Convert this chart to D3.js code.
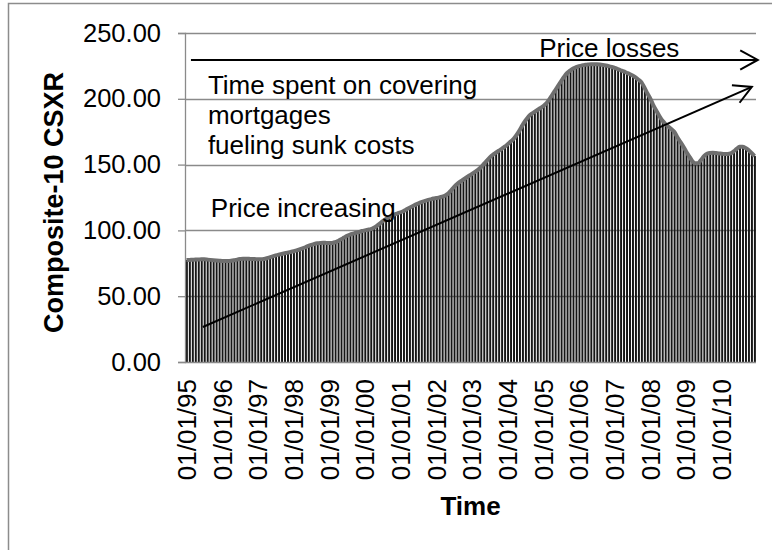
<!DOCTYPE html>
<html>
<head>
<meta charset="utf-8">
<script src="https://cdn.jsdelivr.net/npm/d3@7"></script>
<style>
  body { margin: 0; background: #fff; }
  svg { display: block; font-family: "Liberation Sans", Arial, sans-serif; }
</style>
</head>
<body>
<svg id="chart" width="772" height="550"></svg>
<script>
// year tick labels (one per January)
const yearLabels = ["01/01/95", "01/01/96", "01/01/97", "01/01/98", "01/01/99", "01/01/00", "01/01/01", "01/01/02",
    "01/01/03", "01/01/04", "01/01/05", "01/01/06", "01/01/07", "01/01/08", "01/01/09", "01/01/10"];

// Composite-10 CSXR, monthly
const csxr1995 = [77.5, 77.6, 77.7, 77.8, 77.9, 78.0, 78.0, 77.8, 77.6, 77.4, 77.2, 77.0];
const csxr1996 = [76.8, 76.7, 76.7, 76.9, 77.3, 77.8, 78.2, 78.5, 78.5, 78.4, 78.3, 78.2];
const csxr1997 = [78.1, 78.1, 78.3, 78.8, 79.5, 80.3, 81.0, 81.6, 82.1, 82.6, 83.1, 83.6];
const csxr1998 = [84.2, 84.8, 85.5, 86.3, 87.2, 88.2, 89.0, 89.7, 90.2, 90.5, 90.6, 90.5];
const csxr1999 = [90.4, 90.5, 91.0, 92.0, 93.2, 94.6, 95.9, 96.8, 97.5, 98.2, 98.8, 99.5];
const csxr2000 = [100.0, 100.5, 101.0, 102.0, 103.5, 105.2, 107.0, 108.6, 110.0, 111.2, 112.2, 113.0];
const csxr2001 = [113.8, 114.8, 116.0, 117.2, 118.4, 119.6, 120.6, 121.5, 122.3, 123.0, 123.6, 124.2];
const csxr2002 = [124.6, 125.0, 125.6, 126.5, 128.0, 130.5, 133.0, 135.2, 137.0, 138.5, 140.0, 141.5];
const csxr2003 = [143.0, 144.5, 146.0, 148.0, 150.5, 153.0, 155.5, 157.5, 159.0, 160.5, 162.0, 163.6];
const csxr2004 = [165.5, 167.5, 169.5, 172.5, 176.0, 180.0, 183.5, 186.5, 188.5, 190.0, 191.5, 193.0];
const csxr2005 = [194.5, 196.5, 199.5, 203.0, 206.5, 210.0, 213.5, 216.8, 219.6, 221.5, 223.0, 224.0];
const csxr2006 = [224.8, 225.4, 225.8, 226.1, 226.3, 226.3, 226.2, 226.0, 225.7, 225.3, 224.8, 224.2];
const csxr2007 = [223.5, 222.6, 221.7, 220.8, 219.8, 218.8, 217.7, 216.3, 214.5, 212.5, 208.5, 204.0];
const csxr2008 = [200.0, 195.0, 191.0, 187.0, 183.5, 181.0, 179.0, 177.0, 175.0, 171.0, 167.5, 164.0];
const csxr2009 = [160.0, 156.5, 153.0, 151.0, 151.0, 153.5, 156.5, 158.2, 158.8, 159.0, 158.8, 158.5];
const csxr2010 = [158.3, 158.0, 158.0, 158.5, 160.0, 162.0, 163.5, 163.6, 162.6, 161.0, 158.8, 156.5];

const yTicks = [0, 50, 100, 150, 200, 250];

// annotations: [month index, value] anchors
const annotations = [
    { text: "Price losses", m: 119.1, v: 232 },
    { text: "Time spent on covering", m: 7.7, v: 204 },
    { text: "mortgages", m: 7.7, v: 181 },
    { text: "fueling sunk costs", m: 7.7, v: 158 },
    { text: "Price increasing", m: 8.7, v: 110.5 }
];
const arrows = [
    { from: [2.0, 229.5], to: [192.6, 229.5] },
    { from: [6.0, 26.6], to: [190.6, 209] }
];

(function () {
    const series = [].concat(csxr1995, csxr1996, csxr1997, csxr1998, csxr1999, csxr2000, csxr2001, csxr2002,
        csxr2003, csxr2004, csxr2005, csxr2006, csxr2007, csxr2008, csxr2009, csxr2010);

    const left = 185, right = 756, top = 33, bottom = 362;

    const x = d3.scaleBand().domain(d3.range(series.length)).range([left, right]).padding(0);
    const xm = d3.scaleLinear().domain([0, series.length]).range([left, right]); // for annotations
    const y = d3.scaleLinear().domain([0, 250]).range([bottom, top]);

    const svg = d3.select("#chart");

    // outer chart border (only top/left show in the crop)
    svg.append("rect")
        .attr("x", 8.5).attr("y", 3.5)
        .attr("width", 900).attr("height", 700)
        .attr("fill", "none")
        .attr("stroke", "#8c8c8c")
        .attr("stroke-width", 1.5);

    // gridlines
    svg.append("g")
        .selectAll("line")
        .data(yTicks.slice(1))
        .join("line")
        .attr("x1", left).attr("x2", right)
        .attr("y1", d => Math.round(y(d)) + 0.5)
        .attr("y2", d => Math.round(y(d)) + 0.5)
        .attr("stroke", "#8a8a8a")
        .attr("stroke-width", 1.3);

    // monthly bars, hatched look
    const bw = x.bandwidth();
    svg.append("g")
        .selectAll("rect")
        .data(series)
        .join("rect")
        .attr("x", (d, i) => x(i) + bw * 0.3)
        .attr("width", bw * 0.66)
        .attr("y", d => y(d))
        .attr("height", d => bottom - y(d))
        .attr("fill", "#161616");

    // top outline
    const line = d3.line()
        .x((d, i) => x(i) + bw / 2)
        .y(d => y(d))
        .curve(d3.curveMonotoneX);
    svg.append("path")
        .datum(series)
        .attr("d", line)
        .attr("fill", "none")
        .attr("stroke", "#6e6e6e")
        .attr("stroke-width", 4)
        .attr("stroke-linejoin", "round");

    // y axis
    const yAxis = svg.append("g")
        .attr("transform", `translate(${left},0)`)
        .call(d3.axisLeft(y).tickValues(yTicks).tickSize(7).tickPadding(17).tickFormat(d3.format(".2f")));
    yAxis.select(".domain").attr("stroke", "#8a8a8a").attr("stroke-width", 1.3);
    yAxis.selectAll(".tick line").attr("stroke", "#8a8a8a").attr("stroke-width", 1.3);
    yAxis.selectAll("text")
        .attr("font-size", 25.5)
        .attr("font-family", "Liberation Sans, Arial, sans-serif")
        .attr("fill", "#000");

    // x axis line
    svg.append("line")
        .attr("x1", left).attr("x2", right)
        .attr("y1", bottom + 0.5).attr("y2", bottom + 0.5)
        .attr("stroke", "#8a8a8a")
        .attr("stroke-width", 1.3);

    // x tick labels, one per year, rotated
    svg.append("g")
        .selectAll("text")
        .data(yearLabels)
        .join("text")
        .attr("transform", (d, i) => `translate(${x(i * 12) + bw / 2},${bottom + 17}) rotate(-90)`)
        .attr("text-anchor", "end")
        .attr("dy", "0.36em")
        .attr("font-size", 26)
        .text(d => d);

    // axis titles
    svg.append("text")
        .attr("x", (left + right) / 2)
        .attr("y", 515)
        .attr("text-anchor", "middle")
        .attr("font-size", 26)
        .attr("font-weight", "bold")
        .text("Time");

    svg.append("text")
        .attr("transform", `translate(63,${(top + bottom) / 2 + 5}) rotate(-90)`)
        .attr("text-anchor", "middle")
        .attr("font-size", 27)
        .attr("font-weight", "bold")
        .text("Composite-10 CSXR");

    // arrows
    const arrowG = svg.append("g")
        .attr("stroke", "#000")
        .attr("stroke-width", 2)
        .attr("fill", "none");
    arrows.forEach(a => {
        const x1 = xm(a.from[0]), y1 = y(a.from[1]);
        const x2 = xm(a.to[0]), y2 = y(a.to[1]);
        arrowG.append("line")
            .attr("x1", x1).attr("y1", y1)
            .attr("x2", x2).attr("y2", y2);
        const ang = Math.atan2(y2 - y1, x2 - x1);
        const len = 20, spread = Math.PI / 6.3;
        const p = [
            [x2 - len * Math.cos(ang - spread), y2 - len * Math.sin(ang - spread)],
            [x2, y2],
            [x2 - len * Math.cos(ang + spread), y2 - len * Math.sin(ang + spread)]
        ];
        arrowG.append("path").attr("d", d3.line()(p));
    });

    // annotation text
    svg.append("g")
        .selectAll("text")
        .data(annotations)
        .join("text")
        .attr("x", d => xm(d.m))
        .attr("y", d => y(d.v))
        .attr("font-size", 26)
        .text(d => d.text);
})();
</script>
</body>
</html>
